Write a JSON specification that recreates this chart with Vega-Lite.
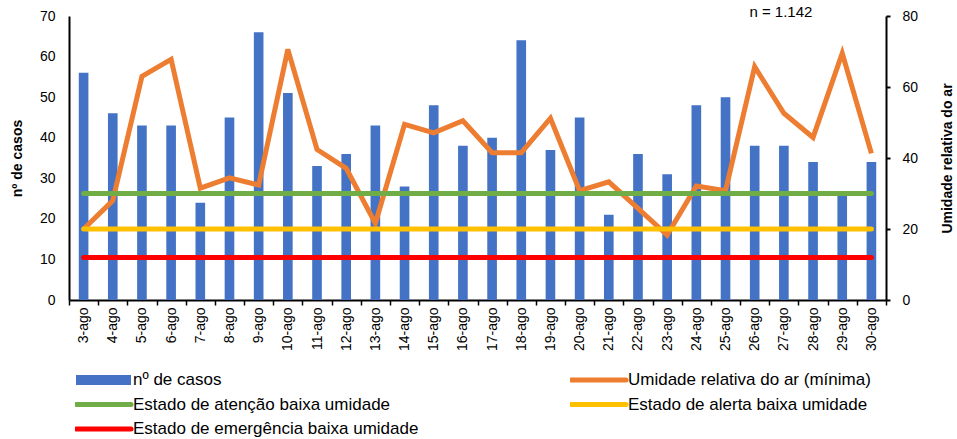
{
  "$schema": "https://vega.github.io/schema/vega-lite/v6.json",
  "width": 817,
  "height": 284,
  "autosize": {"type": "none"},
  "padding": {"left": 69, "top": 16, "right": 71, "bottom": 139},
  "background": "white",
  "config": {
    "view": {"stroke": null},
    "font": "Liberation Sans",
    "axis": {
      "grid": false,
      "domainColor": "black",
      "domainWidth": 2,
      "tickColor": "black",
      "tickWidth": 2,
      "labelColor": "#000",
      "titleColor": "#000",
      "labelFont": "Liberation Sans",
      "titleFont": "Liberation Sans"
    },
    "legend": {
      "symbolSize": 3025,
      "symbolStrokeWidth": 5,
      "symbolType": "stroke"
    }
  },
  "datasets": {
    "dias": [
      {"dia": "3-ago", "casos": 56, "umidade": 20},
      {"dia": "4-ago", "casos": 46, "umidade": 28},
      {"dia": "5-ago", "casos": 43, "umidade": 63},
      {"dia": "6-ago", "casos": 43, "umidade": 67.8},
      {"dia": "7-ago", "casos": 24, "umidade": 31.5},
      {"dia": "8-ago", "casos": 45, "umidade": 34.4},
      {"dia": "9-ago", "casos": 66, "umidade": 32.4},
      {"dia": "10-ago", "casos": 51, "umidade": 70.6},
      {"dia": "11-ago", "casos": 33, "umidade": 42.4},
      {"dia": "12-ago", "casos": 36, "umidade": 37.1},
      {"dia": "13-ago", "casos": 43, "umidade": 21.6},
      {"dia": "14-ago", "casos": 28, "umidade": 49.5},
      {"dia": "15-ago", "casos": 48, "umidade": 47.1},
      {"dia": "16-ago", "casos": 38, "umidade": 50.5},
      {"dia": "17-ago", "casos": 40, "umidade": 41.5},
      {"dia": "18-ago", "casos": 64, "umidade": 41.5},
      {"dia": "19-ago", "casos": 37, "umidade": 51.2},
      {"dia": "20-ago", "casos": 45, "umidade": 30.8},
      {"dia": "21-ago", "casos": 21, "umidade": 33.3},
      {"dia": "22-ago", "casos": 36, "umidade": 25.8},
      {"dia": "23-ago", "casos": 31, "umidade": 18.3},
      {"dia": "24-ago", "casos": 48, "umidade": 32.1},
      {"dia": "25-ago", "casos": 50, "umidade": 30.8},
      {"dia": "26-ago", "casos": 38, "umidade": 65.7},
      {"dia": "27-ago", "casos": 38, "umidade": 52.6},
      {"dia": "28-ago", "casos": 34, "umidade": 45.8},
      {"dia": "29-ago", "casos": 26, "umidade": 69.5},
      {"dia": "30-ago", "casos": 34, "umidade": 41.3}
    ],
    "limiares": [
      {"estado": "Estado de atenção baixa umidade", "dia": "3-ago", "valor": 30},
      {"estado": "Estado de atenção baixa umidade", "dia": "30-ago", "valor": 30},
      {"estado": "Estado de alerta baixa umidade", "dia": "3-ago", "valor": 20},
      {"estado": "Estado de alerta baixa umidade", "dia": "30-ago", "valor": 20},
      {"estado": "Estado de emergência baixa umidade", "dia": "3-ago", "valor": 12},
      {"estado": "Estado de emergência baixa umidade", "dia": "30-ago", "valor": 12}
    ],
    "nota": [{"dia": "27-ago", "y": 71, "texto": "n = 1.142"}]
  },
  "layer": [
    {
      "data": {"name": "dias"},
      "mark": {"type": "bar", "width": {"band": 0.33}},
      "encoding": {
        "x": {
          "field": "dia",
          "type": "ordinal",
          "sort": null,
          "scale": {
            "domain": ["3-ago","4-ago","5-ago","6-ago","7-ago","8-ago","9-ago","10-ago","11-ago","12-ago","13-ago","14-ago","15-ago","16-ago","17-ago","18-ago","19-ago","20-ago","21-ago","22-ago","23-ago","24-ago","25-ago","26-ago","27-ago","28-ago","29-ago","30-ago"],
            "paddingInner": 0,
            "paddingOuter": 0
          },
          "axis": {
            "title": null,
            "labelAngle": -90,
            "labelFontSize": 14,
            "labelPadding": 2,
            "tickSize": 5,
            "tickWidth": 1.5,
            "tickBand": "extent"
          }
        },
        "y": {
          "field": "casos",
          "type": "quantitative",
          "scale": {"domain": [0, 70]},
          "axis": {
            "orient": "left",
            "title": "nº de casos",
            "titleFontSize": 14,
            "titleFontWeight": "bold",
            "labelFontSize": 14,
            "ticks": false,
            "tickSize": 0,
            "labelPadding": 14,
            "values": [0, 10, 20, 30, 40, 50, 60, 70],
            "titlePadding": 15
          }
        },
        "color": {
          "datum": "nº de casos",
          "type": "nominal",
          "title": null,
          "scale": {
            "domain": ["nº de casos", "Umidade relativa do ar (mínima)", "Estado de atenção baixa umidade", "Estado de alerta baixa umidade", "Estado de emergência baixa umidade"],
            "range": ["#4472C4", "#ED7D31", "#70AD47", "#FFC000", "#FF0000"]
          },
          "legend": {
            "title": null,
            "orient": "none",
            "direction": "horizontal",
            "legendX": 6,
            "legendY": 356,
            "columns": 2,
            "columnPadding": 151,
            "rowPadding": 7.5,
            "clipHeight": 16,
            "symbolType": "stroke",
            "symbolSize": 3025,
            "symbolStrokeWidth": 5,
            "symbolOffset": 20,
            "labelFontSize": 17,
            "labelFont": "Liberation Sans",
            "labelColor": "#000",
            "labelLimit": 400,
            "labelOffset": 21,
            "encode": {
              "symbols": {
                "update": {
                  "stroke": {"signal": "scale('color', datum.value)"},
                  "strokeWidth": {"signal": "datum.value === 'nº de casos' ? 10 : 5"},
                  "strokeCap": {"signal": "datum.value === 'nº de casos' ? 'butt' : 'round'"}
                }
              }
            }
          }
        }
      }
    },
    {
      "layer": [
        {
          "data": {"name": "dias"},
          "mark": {"type": "line", "strokeWidth": 5},
          "encoding": {
            "x": {"field": "dia", "type": "ordinal", "sort": null},
            "y": {
              "field": "umidade",
              "type": "quantitative",
              "scale": {"domain": [0, 80]},
              "axis": {
                "orient": "right",
                "title": "Umidade relativa do ar",
                "titleAngle": 270,
                "titleFontSize": 14,
                "titleFontWeight": "bold",
                "labelFontSize": 14,
                "tickSize": 4,
                "labelPadding": 12,
                "titlePadding": 37,
                "values": [0, 10, 20, 30, 40, 50, 60, 70, 80]
              }
            },
            "color": {"datum": "Umidade relativa do ar (mínima)", "type": "nominal", "title": null}
          }
        },
        {
          "data": {"name": "limiares"},
          "mark": {"type": "line", "strokeWidth": 5, "strokeCap": "round"},
          "encoding": {
            "x": {"field": "dia", "type": "ordinal", "sort": null},
            "y": {"field": "valor", "type": "quantitative"},
            "color": {"field": "estado", "type": "nominal", "title": null}
          }
        }
      ]
    },
    {
      "data": {"name": "nota"},
      "mark": {"type": "text", "fontSize": 15, "font": "Liberation Sans", "baseline": "middle", "align": "center", "dx": -3, "color": "#000", "clip": false},
      "encoding": {
        "x": {"field": "dia", "type": "ordinal", "sort": null},
        "y": {"field": "y", "type": "quantitative", "scale": {"domain": [0, 70]}, "axis": null},
        "text": {"field": "texto"}
      }
    }
  ],
  "resolve": {"scale": {"y": "independent"}}
}
